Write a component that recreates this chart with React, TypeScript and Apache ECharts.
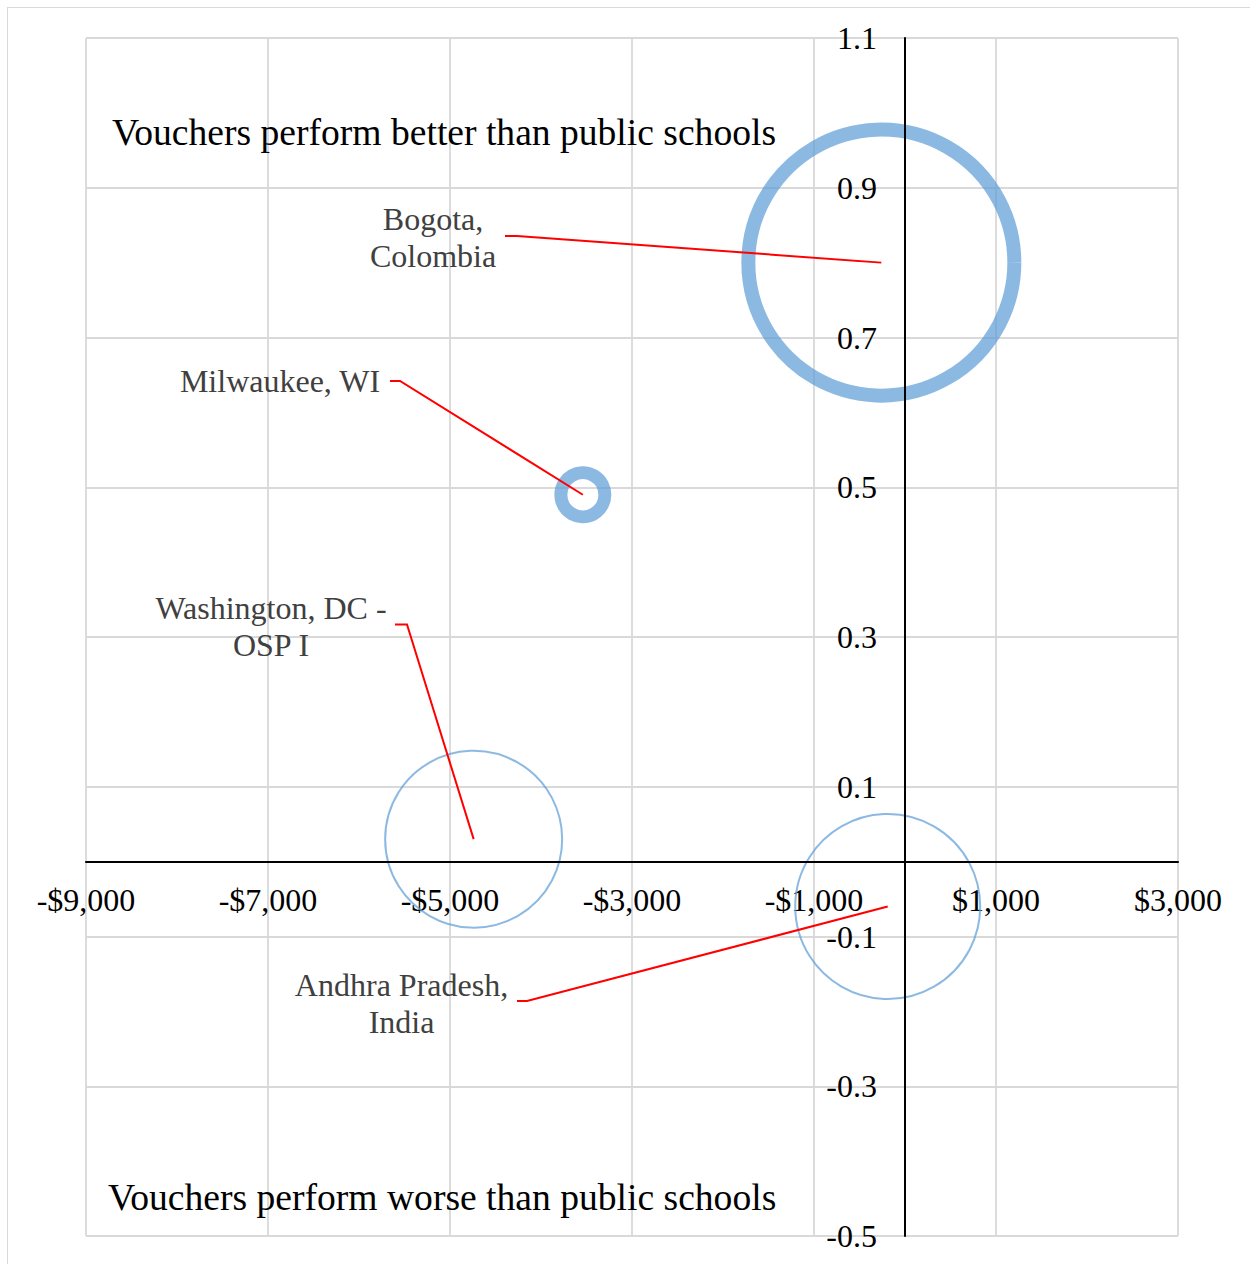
import React, { useEffect, useRef } from "react";
import * as echarts from "echarts";

// ---- data ----
const sites = ["Bogota, Colombia", "Milwaukee, WI", "Washington, DC - OSP I", "Andhra Pradesh, India"];
const siteLabels = ["Bogota,\nColombia", "Milwaukee, WI", "Washington, DC -\nOSP I", "Andhra Pradesh,\nIndia"];
const costDifference = [-260, -3540, -4740, -190];
const effectSize = [0.8, 0.49, 0.03, -0.06];
const bubbleSize = [266, 44, 177, 185];

const xMin = -9000;
const xMax = 3000;
const xStep = 2000;
const yMin = -0.5;
const yMax = 1.1;
const yStep = 0.2;

const quadrantTop = "Vouchers perform better than public schools";
const quadrantBottom = "Vouchers perform worse than public schools";

// ---- styles / layout (not data) ----
const ringWidth = [14, 13, 2, 2];
const FONT = '"Liberation Serif", "Times New Roman", serif';
const GRID = { left: 78, top: 30, width: 1092, height: 1198 };
// label text centre and elbow of the leader line, in chart pixels
const labelLayout = [
  { tx: 425, ty: 229.5, sx: 497, sy: 228, ex: 509, ey: 228 },
  { tx: 272, ty: 373, sx: 382, sy: 373, ex: 392, ey: 373 },
  { tx: 263, ty: 618.5, sx: 387, sy: 616.5, ex: 399, ey: 616.5 },
  { tx: 393.5, ty: 995.5, sx: 509, sy: 993, ex: 519, ey: 993 },
];

function fmtMoney(v: number) {
  const r = Math.round(v);
  return (r < 0 ? "-" : "") + "$" + Math.abs(r).toLocaleString("en-US");
}

export default function App() {
  const ref = useRef<HTMLDivElement>(null);

  useEffect(() => {
    if (!ref.current) return;
    const chart = echarts.init(ref.current, undefined, { renderer: "svg" });

    const data = sites.map((name, i) => ({
      name,
      value: [costDifference[i], effectSize[i], bubbleSize[i]],
      itemStyle: {
        color: "rgba(0,0,0,0)",
        borderColor: "#5b9bd5",
        borderWidth: ringWidth[i],
        opacity: 0.7,
      },
    }));

    // move each axis (line + labels) to the other axis' zero
    const xAxisShift = -((0 - yMin) / (yMax - yMin)) * GRID.height;
    const yAxisShift = -((0 - xMin) / (xMax - xMin)) * GRID.width;

    const gridLine = { show: true, lineStyle: { color: "#d9d9d9", width: 1.8 } };

    chart.setOption({
      animation: false,
      backgroundColor: "#ffffff",
      grid: { ...GRID, containLabel: false, outerBoundsMode: "none" },
      xAxis: {
        type: "value",
        min: xMin,
        max: xMax,
        interval: xStep,
        position: "bottom",
        offset: xAxisShift,
        axisLine: { show: true, onZero: false, lineStyle: { color: "#000", width: 2 } },
        axisTick: { show: false },
        splitLine: gridLine,
        axisLabel: {
          margin: 22,
          fontFamily: FONT,
          fontSize: 32,
          color: "#000",
          formatter: (v: number) => fmtMoney(v),
        },
      },
      yAxis: {
        type: "value",
        min: yMin,
        max: yMax,
        interval: yStep,
        position: "left",
        offset: yAxisShift,
        axisLine: { show: true, onZero: false, lineStyle: { color: "#000", width: 2 } },
        axisTick: { show: false },
        splitLine: gridLine,
        axisLabel: {
          margin: 28,
          fontFamily: FONT,
          fontSize: 32,
          color: "#000",
          formatter: (v: number) => {
            const s = (Math.round(v * 10) / 10).toFixed(1);
            return s === "-0.0" ? "0.0" : s;
          },
        },
      },
      series: [
        {
          type: "scatter",
          data,
          symbol: "circle",
          symbolSize: (val: number[]) => val[2],
          emphasis: { disabled: true },
          markLine: {
            silent: true,
            symbol: ["none", "none"],
            label: { show: false },
            lineStyle: { color: "#000", width: 2, type: "solid" },
            data: [{ xAxis: 0 }, { yAxis: 0 }],
          },
        },
      ],
    });

    const graphics: any[] = [
      {
        type: "text",
        x: 104,
        y: 124,
        style: {
          text: quadrantTop,
          fontFamily: FONT,
          fontSize: 37.6,
          fill: "#000",
          align: "left",
          verticalAlign: "middle",
        },
      },
      {
        type: "text",
        x: 100,
        y: 1189,
        style: {
          text: quadrantBottom,
          fontFamily: FONT,
          fontSize: 37.6,
          fill: "#000",
          align: "left",
          verticalAlign: "middle",
        },
      },
    ];

    sites.forEach((_, i) => {
      const c = chart.convertToPixel({ gridIndex: 0 }, [costDifference[i], effectSize[i]]) as number[];
      const L = labelLayout[i];
      graphics.push({
        type: "polyline",
        z: 20,
        shape: { points: [[L.sx, L.sy], [L.ex, L.ey], [c[0], c[1]]] },
        style: { stroke: "#ff0000", lineWidth: 2, fill: null },
      });
      graphics.push({
        type: "text",
        z: 20,
        x: L.tx,
        y: L.ty,
        style: {
          text: siteLabels[i],
          fontFamily: FONT,
          fontSize: 32,
          lineHeight: 37,
          fill: "#404040",
          align: "center",
          verticalAlign: "middle",
        },
      });
    });

    chart.setOption({ graphic: graphics });

    return () => chart.dispose();
  }, []);

  return (
    <div
      ref={ref}
      style={{
        position: "fixed",
        left: 7,
        top: 7,
        width: 1260,
        height: 1270,
        boxSizing: "border-box",
        border: "1px solid #d9d9d9",
        background: "#fff",
      }}
    />
  );
}
